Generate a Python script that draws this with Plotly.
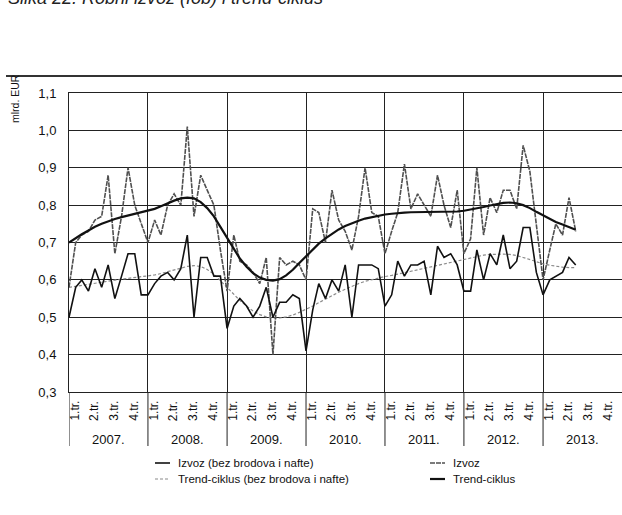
import plotly.graph_objects as go
import pandas as pd

# ---- data (mlrd. EUR, monthly from Jan 2007 to Jun 2013) ----
start_month = "2007-01-01"
n_months = 78

izvoz = [
    0.58, 0.70, 0.72, 0.73, 0.76, 0.77, 0.88, 0.67, 0.77, 0.90, 0.80, 0.75,   # 2007
    0.70, 0.76, 0.72, 0.80, 0.83, 0.80, 1.01, 0.77, 0.88, 0.84, 0.80, 0.68,   # 2008
    0.57, 0.72, 0.65, 0.64, 0.62, 0.59, 0.66, 0.40, 0.66, 0.64, 0.65, 0.64,   # 2009
    0.60, 0.79, 0.78, 0.70, 0.84, 0.76, 0.73, 0.68, 0.77, 0.90, 0.78, 0.77,   # 2010
    0.67, 0.73, 0.78, 0.91, 0.79, 0.83, 0.80, 0.77, 0.88, 0.80, 0.74, 0.84,   # 2011
    0.67, 0.71, 0.90, 0.72, 0.82, 0.78, 0.84, 0.84, 0.79, 0.96, 0.89, 0.74,   # 2012
    0.60, 0.68, 0.75, 0.72, 0.82, 0.73,                                       # 2013
]

izvoz_bez = [
    0.50, 0.58, 0.60, 0.57, 0.63, 0.58, 0.64, 0.55, 0.61, 0.67, 0.67, 0.56,
    0.56, 0.59, 0.61, 0.62, 0.60, 0.63, 0.72, 0.50, 0.66, 0.66, 0.61, 0.61,
    0.47, 0.53, 0.55, 0.53, 0.50, 0.53, 0.58, 0.50, 0.54, 0.54, 0.56, 0.55,
    0.41, 0.52, 0.59, 0.55, 0.60, 0.57, 0.64, 0.50, 0.64, 0.64, 0.64, 0.63,
    0.53, 0.56, 0.65, 0.61, 0.64, 0.64, 0.65, 0.56, 0.69, 0.66, 0.67, 0.64,
    0.57, 0.57, 0.68, 0.60, 0.67, 0.64, 0.72, 0.63, 0.65, 0.74, 0.74, 0.62,
    0.56, 0.60, 0.61, 0.62, 0.66, 0.64,
]

trend = [
    0.700, 0.712, 0.722, 0.732, 0.742, 0.750, 0.757, 0.763, 0.768, 0.772, 0.776, 0.780,
    0.785, 0.790, 0.797, 0.805, 0.812, 0.818, 0.820, 0.818, 0.808, 0.792, 0.770, 0.742,
    0.712, 0.683, 0.657, 0.635, 0.618, 0.606, 0.600, 0.598, 0.602, 0.612, 0.627, 0.645,
    0.663, 0.680, 0.697, 0.711, 0.724, 0.735, 0.744, 0.752, 0.758, 0.764, 0.768, 0.772,
    0.775, 0.777, 0.779, 0.780, 0.781, 0.781, 0.781, 0.781, 0.781, 0.781, 0.782, 0.783,
    0.785, 0.788, 0.791, 0.795, 0.799, 0.803, 0.806, 0.807, 0.805, 0.800, 0.792, 0.782,
    0.772, 0.763, 0.755, 0.748, 0.741, 0.734,
]

trend_bez = [
    0.580, 0.583, 0.586, 0.589, 0.592, 0.595, 0.598, 0.600, 0.602, 0.604, 0.606, 0.608,
    0.610, 0.613, 0.617, 0.622, 0.627, 0.632, 0.636, 0.638, 0.636, 0.628, 0.615, 0.598,
    0.580, 0.562, 0.545, 0.530, 0.517, 0.507, 0.501, 0.498, 0.498, 0.501, 0.506, 0.513,
    0.521, 0.530, 0.539, 0.549, 0.558, 0.567, 0.575, 0.583, 0.590, 0.596, 0.601, 0.605,
    0.609, 0.612, 0.615, 0.619, 0.623, 0.627, 0.631, 0.635, 0.639, 0.643, 0.647, 0.651,
    0.655, 0.659, 0.663, 0.666, 0.668, 0.669, 0.669, 0.668, 0.665, 0.660, 0.654, 0.648,
    0.643, 0.639, 0.636, 0.634, 0.633, 0.633,
]

years = [2007, 2008, 2009, 2010, 2011, 2012, 2013]
year_labels = ["2007.", "2008.", "2009.", "2010.", "2011.", "2012.", "2013."]
quarter_labels = ["1.tr.", "2.tr.", "3.tr.", "4.tr."]
y_tickvals = [0.3, 0.4, 0.5, 0.6, 0.7, 0.8, 0.9, 1.0, 1.1]
y_ticktext = ["0,3", "0,4", "0,5", "0,6", "0,7", "0,8", "0,9", "1,0", "1,1"]

names = {
    "izvoz_bez": "Izvoz (bez brodova i nafte)",
    "trend_bez": "Trend-ciklus (bez brodova i nafte)",
    "izvoz": "Izvoz",
    "trend": "Trend-ciklus",
}
title_text = "Slika 22. Robni izvoz (fob) i trend-ciklus"
y_title = "mlrd. EUR"

# ---- figure ----
months = pd.date_range(start_month, periods=n_months, freq="MS")
FONT = "Liberation Sans Narrow, Arial Narrow, Liberation Sans, Arial, sans-serif"
W, H = 622, 515
ML, MR, MT, MB = 69, 0, 93, 123
PH = H - MT - MB
PW = W - ML - MR


def py(p):  # pixel y -> paper y
    return (H - MB - p) / PH


def px(p):  # pixel x -> paper x
    return (p - ML) / PW


styles = {
    "trend_bez": dict(color="#8a8a8a", width=1.2, dash="3px,2px"),
    "izvoz": dict(color="#505050", width=1.6, dash="5px,1px"),
    "izvoz_bez": dict(color="#111111", width=1.6),
    "trend": dict(color="#111111", width=2.2),
}
series = {"trend_bez": trend_bez, "izvoz": izvoz, "izvoz_bez": izvoz_bez, "trend": trend}

fig = go.Figure()
for key in ["trend_bez", "izvoz", "izvoz_bez", "trend"]:
    fig.add_trace(go.Scatter(x=months, y=series[key], mode="lines", name=names[key],
                             line=styles[key], showlegend=False))

annotations = []
shapes = []

# quarter labels, year labels and year separators below the axis
for y in years:
    for q, ql in enumerate(quarter_labels):
        annotations.append(dict(x=f"{y}-{1 + 3 * q:02d}-27", y=py(411), xref="x", yref="paper",
                                text=ql, showarrow=False, textangle=-90,
                                font=dict(family=FONT, size=12, color="#111"),
                                xanchor="center", yanchor="middle"))
    annotations.append(dict(x=f"{y}-07-01", y=py(439), xref="x", yref="paper",
                            text=year_labels[years.index(y)], showarrow=False,
                            font=dict(family=FONT, size=13, color="#111"),
                            xanchor="center", yanchor="middle"))
    shapes.append(dict(type="line", xref="x", yref="paper", x0=f"{y}-01-01", x1=f"{y}-01-01",
                       y0=0, y1=py(446), line=dict(color="#222", width=1)))

# title (cut off at the top edge, as in the reference) and y-axis title
annotations.append(dict(x=px(6), y=py(10), xref="paper", yref="paper", text=f"<i>{title_text}</i>",
                        showarrow=False, xanchor="left", yanchor="bottom",
                        font=dict(family="Liberation Sans, Arial, sans-serif", size=18, color="#222")))
annotations.append(dict(x=px(15), y=py(99), xref="paper", yref="paper", text=y_title,
                        showarrow=False, textangle=-90, xanchor="center", yanchor="middle",
                        font=dict(family=FONT, size=10.5, color="#111")))

# top rule
shapes.append(dict(type="line", xref="paper", yref="paper", x0=px(6), x1=px(622),
                   y0=py(76), y1=py(76), line=dict(color="#333", width=2)))

# manual legend
legend_items = [
    ("izvoz_bez", 155, 463), ("trend_bez", 155, 479),
    ("izvoz", 430, 463), ("trend", 430, 479),
]
for key, lx, ly in legend_items:
    st = dict(styles[key])
    shapes.append(dict(type="line", xref="paper", yref="paper", x0=px(lx), x1=px(lx + 15),
                       y0=py(ly), y1=py(ly), line=st))
    annotations.append(dict(x=px(lx + 21), y=py(ly), xref="paper", yref="paper", text=names[key],
                            showarrow=False, xanchor="left", yanchor="middle",
                            font=dict(family=FONT, size=11.5, color="#111")))

fig.update_layout(
    width=W, height=H,
    margin=dict(l=ML, r=MR, t=MT, b=MB),
    paper_bgcolor="white", plot_bgcolor="white",
    showlegend=False,
    annotations=annotations, shapes=shapes,
    xaxis=dict(type="date", range=["2007-01-01", "2014-01-01"], showgrid=True, gridcolor="#222",
               gridwidth=1, dtick="M12", tick0="2007-01-01", showticklabels=False, ticks="",
               showline=True, linecolor="#222", linewidth=1, mirror=True, zeroline=False),
    yaxis=dict(range=[0.3, 1.1], tickvals=y_tickvals, ticktext=y_ticktext, showgrid=True,
               gridcolor="#222", gridwidth=1, ticks="", showline=True, linecolor="#222",
               linewidth=1, mirror=True, zeroline=False, ticklabelstandoff=9,
               tickfont=dict(family=FONT, size=13, color="#111")),
)

fig.write_html("out.html", config={"displayModeBar": False},
               post_script="document.body.style.margin='0px';")
